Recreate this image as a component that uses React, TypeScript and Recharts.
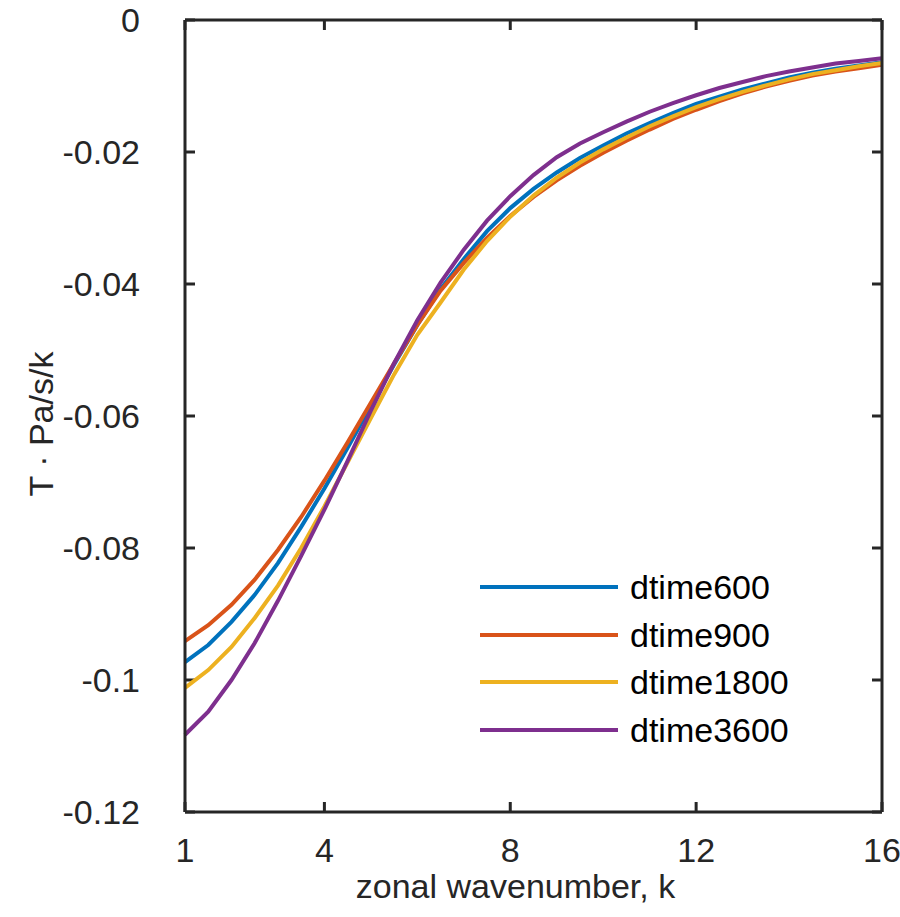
import React from 'react';
import { LineChart, Line, XAxis, YAxis, Legend, ReferenceLine } from 'recharts';

const kValues = [1, 1.5, 2, 2.5, 3, 3.5, 4, 4.5, 5, 5.5, 6, 6.5, 7, 7.5, 8, 8.5, 9, 9.5, 10, 10.5, 11, 11.5, 12, 12.5, 13, 13.5, 14, 14.5, 15, 15.5, 16];

const dtime600 = [-0.0973, -0.0947, -0.0912, -0.0871, -0.0823, -0.0768, -0.0710, -0.0648, -0.0585, -0.0522, -0.0462, -0.0408, -0.0362, -0.0320, -0.0285, -0.0256, -0.0231, -0.0209, -0.0190, -0.0172, -0.0156, -0.0141, -0.0127, -0.0116, -0.0105, -0.0096, -0.0087, -0.0080, -0.0074, -0.0069, -0.0064];
const dtime900 = [-0.0941, -0.0917, -0.0886, -0.0848, -0.0803, -0.0753, -0.0698, -0.0640, -0.0580, -0.0520, -0.0462, -0.0410, -0.0368, -0.0330, -0.0297, -0.0268, -0.0243, -0.0221, -0.0201, -0.0183, -0.0166, -0.0150, -0.0136, -0.0123, -0.0111, -0.0101, -0.0092, -0.0084, -0.0078, -0.0073, -0.0068];
const dtime1800 = [-0.1012, -0.0985, -0.0950, -0.0906, -0.0857, -0.0800, -0.0737, -0.0670, -0.0603, -0.0537, -0.0477, -0.0428, -0.0378, -0.0335, -0.0298, -0.0266, -0.0239, -0.0216, -0.0196, -0.0178, -0.0161, -0.0146, -0.0132, -0.0120, -0.0109, -0.0099, -0.0090, -0.0082, -0.0076, -0.0070, -0.0065];
const dtime3600 = [-0.1083, -0.1048, -0.1000, -0.0944, -0.0880, -0.0812, -0.0742, -0.0668, -0.0592, -0.0520, -0.0455, -0.0398, -0.0348, -0.0304, -0.0267, -0.0235, -0.0208, -0.0187, -0.0170, -0.0154, -0.0139, -0.0126, -0.0114, -0.0103, -0.0094, -0.0085, -0.0078, -0.0072, -0.0066, -0.0062, -0.0058];

const seriesNames = ['dtime600', 'dtime900', 'dtime1800', 'dtime3600'];
const seriesValues = [dtime600, dtime900, dtime1800, dtime3600];
const seriesColors = ['#0072BD', '#D95319', '#EDB120', '#7E2F8E'];

const xTicks = [1, 4, 8, 12, 16];
const yTicks = [-0.12, -0.1, -0.08, -0.06, -0.04, -0.02, 0];
const xDomain = [1, 16];
const yDomain = [-0.12, 0];

const xLabel = 'zonal wavenumber, k';
const yLabel = 'T · Pa/s/k';

const data = kValues.map((k, i) => {
  const row: Record<string, number> = { k };
  seriesNames.forEach((name, s) => {
    row[name] = seriesValues[s][i];
  });
  return row;
});

const FONT = '"Liberation Sans", Arial, Helvetica, sans-serif';
const AXIS_COLOR = '#262626';
const X_MARGIN = 26;
const Y_MARGIN = 45;

// plot size, used only to express a 10px inward tick length in axis units
const PLOT_W = 697;
const PLOT_H = 792;
const TICK_PX = 10;
const xTickLen = (TICK_PX / PLOT_W) * (xDomain[1] - xDomain[0]);
const yTickLen = (TICK_PX / PLOT_H) * (yDomain[1] - yDomain[0]);

const fmtY = (v: number) => (v === 0 ? '0' : String(Number(v.toFixed(2))));

const renderLegend = (props: any) => {
  const payload = [...(props.payload || [])].sort(
    (a: any, b: any) => seriesNames.indexOf(a.value) - seriesNames.indexOf(b.value)
  );
  return (
    <div style={{ display: 'flex', flexDirection: 'column' }}>
      {payload.map((entry: any) => (
        <div key={entry.value} style={{ display: 'flex', alignItems: 'center', height: 47.7 }}>
          <div style={{ width: 138, height: 4, background: entry.color }} />
          <span style={{ marginLeft: 12, fontSize: 34, fontFamily: FONT, color: '#000', lineHeight: '34px' }}>
            {entry.value}
          </span>
        </div>
      ))}
    </div>
  );
};

const BottomTick = (props: any) => {
  const { x, y, payload } = props;
  return (
    <text x={x} y={y} dy="0.71em" textAnchor="middle" fontSize={34} fontFamily={FONT} fill={AXIS_COLOR}>
      {payload.value}
    </text>
  );
};

const LeftTick = (props: any) => {
  const { x, y, payload } = props;
  return (
    <text x={x} y={y} dy="0.355em" textAnchor="end" fontSize={34} fontFamily={FONT} fill={AXIS_COLOR}>
      {fmtY(payload.value)}
    </text>
  );
};

const YLabelContent = (props: any) => {
  const vb = props.viewBox || { x: 0, y: 20, width: 185, height: 792 };
  const cx = vb.x + 41;
  const cy = vb.y + vb.height / 2 + 8;
  return (
    <text
      x={cx}
      y={cy}
      transform={`rotate(-90, ${cx}, ${cy})`}
      textAnchor="middle"
      dominantBaseline="central"
      fontSize={34}
      fontFamily={FONT}
      fill={AXIS_COLOR}
    >
      {yLabel}
    </text>
  );
};

const XLabelContent = (props: any) => {
  const vb = props.viewBox || { x: 185, y: 812, width: 697, height: 105 };
  const cx = vb.x + vb.width / 2 - 18;
  const cy = vb.y + 86;
  return (
    <text x={cx} y={cy} textAnchor="middle" fontSize={34} fontFamily={FONT} fill={AXIS_COLOR}>
      {xLabel}
    </text>
  );
};

export default function App() {
  const axisLine = { stroke: AXIS_COLOR, strokeWidth: 3 };
  const tickMarks: React.ReactNode[] = [];
  xTicks.forEach((t) => {
    tickMarks.push(
      <ReferenceLine
        key={`xb${t}`}
        xAxisId="main"
        yAxisId="main"
        segment={[{ x: t, y: yDomain[0] }, { x: t, y: yDomain[0] + yTickLen }]}
        stroke={AXIS_COLOR}
        strokeWidth={3}
        ifOverflow="visible"
      />,
      <ReferenceLine
        key={`xt${t}`}
        xAxisId="main"
        yAxisId="main"
        segment={[{ x: t, y: yDomain[1] }, { x: t, y: yDomain[1] - yTickLen }]}
        stroke={AXIS_COLOR}
        strokeWidth={3}
        ifOverflow="visible"
      />
    );
  });
  yTicks.forEach((t) => {
    tickMarks.push(
      <ReferenceLine
        key={`yl${t}`}
        xAxisId="main"
        yAxisId="main"
        segment={[{ x: xDomain[0], y: t }, { x: xDomain[0] + xTickLen, y: t }]}
        stroke={AXIS_COLOR}
        strokeWidth={3}
        ifOverflow="visible"
      />,
      <ReferenceLine
        key={`yr${t}`}
        xAxisId="main"
        yAxisId="main"
        segment={[{ x: xDomain[1], y: t }, { x: xDomain[1] - xTickLen, y: t }]}
        stroke={AXIS_COLOR}
        strokeWidth={3}
        ifOverflow="visible"
      />
    );
  });

  return (
    <div style={{ position: 'absolute', left: 0, top: 0, width: 900, height: 917, background: '#fff' }}>
      <LineChart width={900} height={917} data={data} margin={{ top: 0, right: 0, bottom: 0, left: 0 }}>
        <XAxis
          xAxisId="main"
          dataKey="k"
          type="number"
          domain={xDomain}
          ticks={xTicks}
          orientation="bottom"
          height={105}
          axisLine={axisLine}
          tickLine={false}
          tickSize={0}
          tickMargin={X_MARGIN}
          tick={<BottomTick />}
          interval={0}
          label={{ content: XLabelContent }}
        />
        <XAxis
          xAxisId="top"
          dataKey="k"
          type="number"
          domain={xDomain}
          ticks={xTicks}
          orientation="top"
          height={20}
          axisLine={axisLine}
          tickLine={false}
          tick={false}
          interval={0}
        />
        <YAxis
          yAxisId="main"
          type="number"
          domain={yDomain}
          ticks={yTicks}
          orientation="left"
          width={185}
          axisLine={axisLine}
          tickLine={false}
          tickSize={0}
          tickMargin={Y_MARGIN}
          tick={<LeftTick />}
          interval={0}
          label={{ content: YLabelContent }}
        />
        <YAxis
          yAxisId="right"
          type="number"
          domain={yDomain}
          ticks={yTicks}
          orientation="right"
          width={18}
          axisLine={axisLine}
          tickLine={false}
          tick={false}
          interval={0}
        />
        {tickMarks}
        <Legend
          layout="horizontal"
          verticalAlign="middle"
          align="center"
          content={renderLegend}
          wrapperStyle={{ left: 480, top: 563, width: 320, height: 191 }}
        />
        {seriesNames.map((name, s) => (
          <Line
            key={name}
            xAxisId="main"
            yAxisId="main"
            type="linear"
            dataKey={name}
            name={name}
            stroke={seriesColors[s]}
            strokeWidth={4}
            dot={false}
            isAnimationActive={false}
          />
        ))}
      </LineChart>
    </div>
  );
}
